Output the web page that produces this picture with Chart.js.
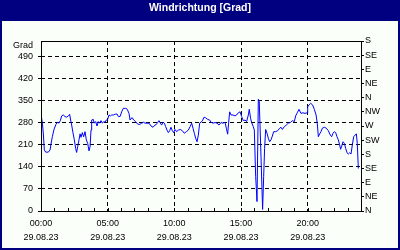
<!DOCTYPE html>
<html>
<head>
<meta charset="utf-8">
<script src="https://cdn.jsdelivr.net/npm/chart.js@4.4.1/dist/chart.umd.min.js"></script>
<style>
body{margin:0;padding:0;background:#fff;}
canvas{display:block;}
</style>
</head>
<body>
<canvas id="myChart" width="400" height="250"></canvas>
<script>
// Windrichtung, Stunden seit 00:00 am 29.08.23
var hours = [0,0.10,0.17,0.25,0.35,0.55,0.68,0.75,0.85,0.98,1.13,1.25,1.35,1.45,1.55,1.67,1.8,1.92,2.05,2.15,
  2.22,2.3,2.4,2.5,2.6,2.67,2.75,2.85,2.93,3.0,3.1,3.2,3.3,3.4,3.5,3.6,3.68,3.75,3.8,3.92,
  4.0,4.1,4.2,4.3,4.4,4.5,4.6,4.7,4.8,4.9,5.0,5.1,5.2,5.3,5.45,5.6,5.7,5.8,5.93,6.05,
  6.17,6.35,6.47,6.6,6.68,6.75,6.85,6.95,7.1,7.25,7.4,7.55,7.7,7.8,7.95,8.1,8.25,8.4,8.55,8.65,
  8.75,8.85,8.95,9.05,9.15,9.25,9.35,9.45,9.55,9.65,9.75,9.85,9.95,10.05,10.17,10.3,10.45,10.6,10.75,10.9,
  11.05,11.18,11.3,11.4,11.5,11.6,11.7,11.8,11.9,12.1,12.23,12.35,12.5,12.65,12.75,12.9,13.05,13.2,13.35,13.5,
  13.65,13.8,13.9,14.0,14.07,14.15,14.25,14.4,14.55,14.67,14.8,14.93,15.05,15.17,15.3,15.42,15.55,15.62,15.72,15.8,
  15.92,16.0,16.1,16.15,16.2,16.3,16.37,16.5,16.62,16.7,16.77,16.85,16.95,17.05,17.15,17.25,17.35,17.45,17.6,17.75,
  17.9,18.0,18.1,18.25,18.4,18.55,18.7,18.85,19.0,19.1,19.22,19.35,19.5,19.65,19.8,19.95,20.0,20.1,20.22,20.37,
  20.5,20.63,20.72,20.8,20.9,21.0,21.1,21.25,21.4,21.55,21.7,21.8,21.9,22.0,22.1,22.2,22.3,22.4,22.47,22.55,
  22.65,22.75,22.85,22.95,23.05,23.15,23.25,23.35,23.45,23.55,23.65,23.72,23.8];
var grad = [308,280,248,194,187,187,194,213,236,260,276,282,279,287,302,305,300,298,302,307,
  289,273,248,226,199,186,204,226,245,234,249,236,252,226,215,191,204,257,289,291,
  279,284,270,284,279,287,279,284,282,289,291,305,302,305,305,308,308,300,300,315,
  326,326,323,310,289,294,296,289,284,276,275,279,282,279,279,279,270,266,273,275,
  281,287,279,273,282,279,268,257,249,255,266,255,249,259,252,257,259,255,247,252,
  257,268,279,263,247,231,220,241,279,286,298,296,291,289,282,279,281,279,273,281,
  279,282,263,244,279,315,305,305,302,305,312,315,300,287,289,284,305,323,294,281,
  268,257,109,72,30,355,347,172,5,109,199,259,247,231,220,226,238,252,252,255,
  263,266,259,268,273,279,281,287,284,302,312,323,310,312,310,312,331,337,342,337,
  323,305,279,236,245,252,263,266,263,255,241,236,247,252,249,236,226,210,196,206,
  220,215,199,185,181,185,181,210,236,241,245,215,135];

var xTicks = [0,5,10,15,20];
var xTimeLabels = ["00:00","05:00","10:00","15:00","20:00"];
var xDateLabel = "29.08.23";
var yTicks = [0,70,140,210,280,350,420,490];
var yUnitLabel = "Grad";
var yUnitPos = 527;
var dirTicks = [0,45,90,135,180,225,270,315,360,405,450,495,540];
var dirLabels = ["N","NE","E","SE","S","SW","W","NW","N","NE","E","SE","S"];

var navy = "#000080";
var bg = "#fafffa";
var font = "'Liberation Sans', Arial, sans-serif";

var points = [];
for (var i = 0; i < hours.length; i++) {
  points.push({x: hours[i], y: grad[i]});
}

var framePlugin = {
  id: "frame",
  beforeDraw: function (chart) {
    var ctx = chart.ctx;
    ctx.save();
    ctx.fillStyle = navy;
    ctx.fillRect(0, 0, chart.width, chart.height);
    ctx.fillStyle = bg;
    ctx.fillRect(2, 21, chart.width - 4, chart.height - 23);
    ctx.restore();
  },
  afterDraw: function (chart) {
    var ctx = chart.ctx;
    var a = chart.chartArea;
    var xs = chart.scales.x;
    ctx.save();
    ctx.strokeStyle = "#000";
    ctx.lineWidth = 1;
    ctx.strokeRect(Math.round(a.left) + 0.5, Math.round(a.top) + 0.5,
      Math.round(a.right - a.left), Math.round(a.bottom - a.top));
    // kleine Stundenstriche an der x-Achse
    ctx.beginPath();
    for (var h = 1; h < 24; h++) {
      var px = Math.round(xs.getPixelForValue(h)) + 0.5;
      ctx.moveTo(px, Math.round(a.bottom));
      ctx.lineTo(px, Math.round(a.bottom) - 3);
    }
    ctx.stroke();
    ctx.restore();
  }
};

new Chart("myChart", {
  type: "line",
  data: {
    datasets: [{
      data: points,
      borderColor: "#0000ff",
      borderWidth: 1,
      pointRadius: 0,
      fill: false,
      tension: 0
    }]
  },
  plugins: [framePlugin],
  options: {
    responsive: false,
    devicePixelRatio: 1,
    animation: false,
    layout: {padding: {left: 2, right: 2, top: 0, bottom: 2}},
    plugins: {
      legend: {display: false},
      tooltip: {enabled: false},
      title: {
        display: true,
        text: "Windrichtung [Grad]",
        color: "#ffffff",
        font: {family: font, size: 10.5, weight: "bold", lineHeight: 1.2},
        padding: {top: 2, bottom: 26.4}
      }
    },
    scales: {
      x: {
        type: "linear",
        min: 0,
        max: 24,
        afterBuildTicks: function (s) {
          s.ticks = xTicks.map(function (v) { return {value: v}; });
        },
        afterFit: function (s) { s.height = 37; },
        ticks: {
          autoSkip: false,
          maxRotation: 0,
          padding: 6,
          color: "#000",
          font: {family: font, size: 9, lineHeight: 1.55},
          callback: function (v) {
            var k = xTicks.indexOf(v);
            return k < 0 ? "" : [xTimeLabels[k], xDateLabel];
          }
        },
        grid: {
          drawTicks: false,
          color: function (c) {
            return (c.tick && c.tick.value > 0 && c.tick.value < 24) ? "#000" : "rgba(0,0,0,0)";
          }
        },
        border: {display: false, dash: [4, 3]}
      },
      y: {
        position: "left",
        min: 0,
        max: 540,
        afterBuildTicks: function (s) {
          var t = yTicks.map(function (v) { return {value: v}; });
          t.push({value: yUnitPos});
          s.ticks = t;
        },
        afterFit: function (s) { s.width = 39; },
        ticks: {
          autoSkip: false,
          padding: 5,
          color: "#000",
          font: {family: font, size: 9},
          callback: function (v) { return v === yUnitPos ? yUnitLabel : String(v); }
        },
        grid: {
          tickLength: 3,
          color: function (c) {
            var v = c.tick ? c.tick.value : 0;
            return (v > 0 && v < 500) ? "#000" : "rgba(0,0,0,0)";
          },
          tickColor: function (c) {
            return (c.tick && c.tick.value === yUnitPos) ? "rgba(0,0,0,0)" : "#000";
          }
        },
        border: {display: false, dash: [4, 3]}
      },
      y2: {
        position: "right",
        min: 0,
        max: 540,
        afterBuildTicks: function (s) {
          s.ticks = dirTicks.map(function (v) { return {value: v}; });
        },
        afterFit: function (s) { s.width = 37; },
        ticks: {
          autoSkip: false,
          padding: 1,
          color: "#000",
          font: {family: font, size: 9},
          callback: function (v) {
            var k = dirTicks.indexOf(v);
            return k < 0 ? "" : dirLabels[k];
          }
        },
        grid: {
          drawOnChartArea: false,
          tickLength: 3,
          color: "#000"
        },
        border: {display: false}
      }
    }
  }
});
</script>
</body>
</html>
